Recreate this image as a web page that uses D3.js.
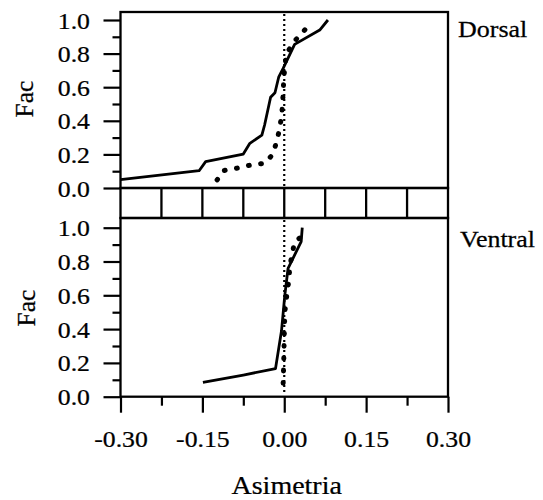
<!DOCTYPE html>
<html>
<head>
<meta charset="utf-8">
<script src="https://cdn.jsdelivr.net/npm/d3@7"></script>
<style>
  html, body { margin: 0; padding: 0; background: #ffffff; }
  svg { display: block; }
  text { font-family: "Liberation Serif", "Times New Roman", serif; fill: #000; stroke: #000; stroke-width: 0.25px; }
</style>
</head>
<body>
<svg id="chart" width="543" height="500"></svg>
<script>
// ---------- data ----------
const panels = ["Dorsal", "Ventral"];

// Dorsal panel: solid series
const dorsalSolidX = [-0.300, -0.156, -0.144, -0.075, -0.063, -0.041, -0.036, -0.025, -0.017, -0.010, -0.002, 0.019, 0.065, 0.080];
const dorsalSolidY = [0.050, 0.103, 0.157, 0.202, 0.266, 0.315, 0.375, 0.540, 0.567, 0.662, 0.712, 0.855, 0.940, 1.000];
// Dorsal panel: dotted series
const dorsalDotX = [-0.123, -0.112, -0.088, -0.061, -0.036, -0.021, -0.014, -0.009, -0.005, -0.003, -0.002, -0.001, 0.001, 0.004, 0.019, 0.039];
const dorsalDotY = [0.048, 0.103, 0.117, 0.137, 0.147, 0.200, 0.276, 0.345, 0.425, 0.500, 0.573, 0.640, 0.722, 0.800, 0.875, 0.946];

// Ventral panel: solid series
const ventralSolidX = [-0.149, -0.075, -0.016, -0.005, 0.001, 0.007, 0.031, 0.033];
const ventralSolidY = [0.085, 0.128, 0.166, 0.390, 0.600, 0.760, 0.917, 1.000];
// Ventral panel: dotted series
const ventralDotX = [-0.002, -0.001, 0.000, 0.001, 0.005, 0.009, 0.010, 0.019, 0.044];
const ventralDotY = [0.080, 0.200, 0.350, 0.500, 0.610, 0.700, 0.770, 0.917, 0.976];

// reference line
const refX = 0;

// ticks
const xMajorTicks = [-0.30, -0.15, 0.00, 0.15, 0.30];
const xMinorTicks = [-0.225, -0.075, 0.075, 0.225];
const yMajorTicks = [0.0, 0.2, 0.4, 0.6, 0.8, 1.0];
const yMinorTicks = [0.1, 0.3, 0.5, 0.7, 0.9];
const xTitle = "Asimetria";
const yTitle = "Fac";

// ---------- layout ----------
const svg = d3.select("#chart");
const L = 120.5, R = 448;
const topP = { top: 12, bottom: 188 };
const botP = { top: 218, bottom: 396.7 };
const SX = 1.12;
const FS = 23;

const x = d3.scaleLinear().domain([-0.3, 0.3]).range([L, R]);
const yTop = d3.scaleLinear().domain([0, 1]).range([188, 20]);
const yBot = d3.scaleLinear().domain([0, 1]).range([396.7, 227.7]);

function stretchText(sel, sx) {
  sel.each(function () {
    const t = d3.select(this);
    const tx = +t.attr("x") || 0;
    const ty = +t.attr("y") || 0;
    t.attr("x", 0).attr("y", 0)
     .attr("transform", `translate(${tx},${ty}) scale(${sx},1)`);
  });
}

function yAxes(y) {
  const gMaj = svg.append("g").attr("transform", `translate(${L},0)`)
    .call(d3.axisLeft(y).tickValues(yMajorTicks).tickSize(17).tickPadding(13.5)
      .tickSizeOuter(0).tickFormat(d => d.toFixed(1)));
  gMaj.select(".domain").remove();
  gMaj.selectAll("line").attr("stroke", "#000").attr("stroke-width", 2.2);
  gMaj.selectAll("text").attr("font-size", FS).attr("font-family", "Liberation Serif")
    .attr("dy", "0.35em");
  stretchText(gMaj.selectAll("text"), SX);
  const gMin = svg.append("g").attr("transform", `translate(${L},0)`)
    .call(d3.axisLeft(y).tickValues(yMinorTicks).tickSize(8).tickFormat(""));
  gMin.select(".domain").remove();
  gMin.selectAll("line").attr("stroke", "#000").attr("stroke-width", 2.2);
}

yAxes(yTop);
yAxes(yBot);

// x axis at bottom
const gxMaj = svg.append("g").attr("transform", `translate(0,${botP.bottom})`)
  .call(d3.axisBottom(x).tickValues(xMajorTicks).tickSize(16).tickPadding(18)
    .tickSizeOuter(0).tickFormat(d => (Math.abs(d) < 1e-9 ? 0 : d).toFixed(2)));
gxMaj.select(".domain").remove();
gxMaj.selectAll("line").attr("stroke", "#000").attr("stroke-width", 2.2);
gxMaj.selectAll("text").attr("font-size", FS).attr("font-family", "Liberation Serif");
stretchText(gxMaj.selectAll("text"), SX);
const gxMin = svg.append("g").attr("transform", `translate(0,${botP.bottom})`)
  .call(d3.axisBottom(x).tickValues(xMinorTicks).tickSize(9).tickFormat(""));
gxMin.select(".domain").remove();
gxMin.selectAll("line").attr("stroke", "#000").attr("stroke-width", 2.2);

// frames
const frame = svg.append("g").attr("fill", "none").attr("stroke", "#000").attr("stroke-width", 2.3);
frame.append("rect").attr("x", L).attr("y", topP.top).attr("width", R - L).attr("height", topP.bottom - topP.top);
frame.append("rect").attr("x", L).attr("y", topP.bottom).attr("width", R - L).attr("height", botP.top - topP.bottom);
frame.append("rect").attr("x", L).attr("y", botP.top).attr("width", R - L).attr("height", botP.bottom - botP.top);
// strip cell dividers
const stripTicks = [...xMinorTicks, ...xMajorTicks.filter(v => Math.abs(v) < 0.29)];
frame.selectAll("line.strip").data(stripTicks).join("line")
  .attr("x1", d => x(d)).attr("x2", d => x(d))
  .attr("y1", topP.bottom).attr("y2", botP.top);

// reference lines at x=0
[topP, botP].forEach(p => {
  svg.append("line")
    .attr("x1", x(refX)).attr("x2", x(refX))
    .attr("y1", p.top + 2).attr("y2", p.bottom - 2)
    .attr("stroke", "#000").attr("stroke-width", 2.2)
    .attr("stroke-dasharray", "2,3");
});

function drawSeries(xs, ys, y, style) {
  const pts = xs.map((v, i) => [v, ys[i]]);
  const line = d3.line().x(d => x(d[0])).y(d => y(d[1]));
  const p = svg.append("path").attr("d", line(pts)).attr("fill", "none")
    .attr("stroke", "#000");
  if (style === "solid") {
    p.attr("stroke-width", 2.8).attr("stroke-linejoin", "round");
  } else {
    p.attr("stroke-width", 5).attr("stroke-linecap", "round")
     .attr("stroke-dasharray", "0.8,11.5");
  }
}

drawSeries(dorsalSolidX, dorsalSolidY, yTop, "solid");
drawSeries(dorsalDotX, dorsalDotY, yTop, "dot");
drawSeries(ventralSolidX, ventralSolidY, yBot, "solid");
drawSeries(ventralDotX, ventralDotY, yBot, "dot");

// panel labels
function label(txt, px, py, size, anchor, sx, rot) {
  const t = svg.append("text").text(txt).attr("font-size", size)
    .attr("text-anchor", anchor);
  t.attr("transform", `translate(${px},${py})` + (rot ? ` rotate(${rot})` : "") + ` scale(${sx},1)`);
  return t;
}
label(panels[0], 458, 37, 23, "start", 1.13);
label(panels[1], 460, 247, 23, "start", 1.13);
label(xTitle, 286.7, 494, 25, "middle", 1.12);
label(yTitle, 33, 99, 25, "middle", 1.02, -90);
label(yTitle, 35, 308, 25, "middle", 1.02, -90);
</script>
</body>
</html>
